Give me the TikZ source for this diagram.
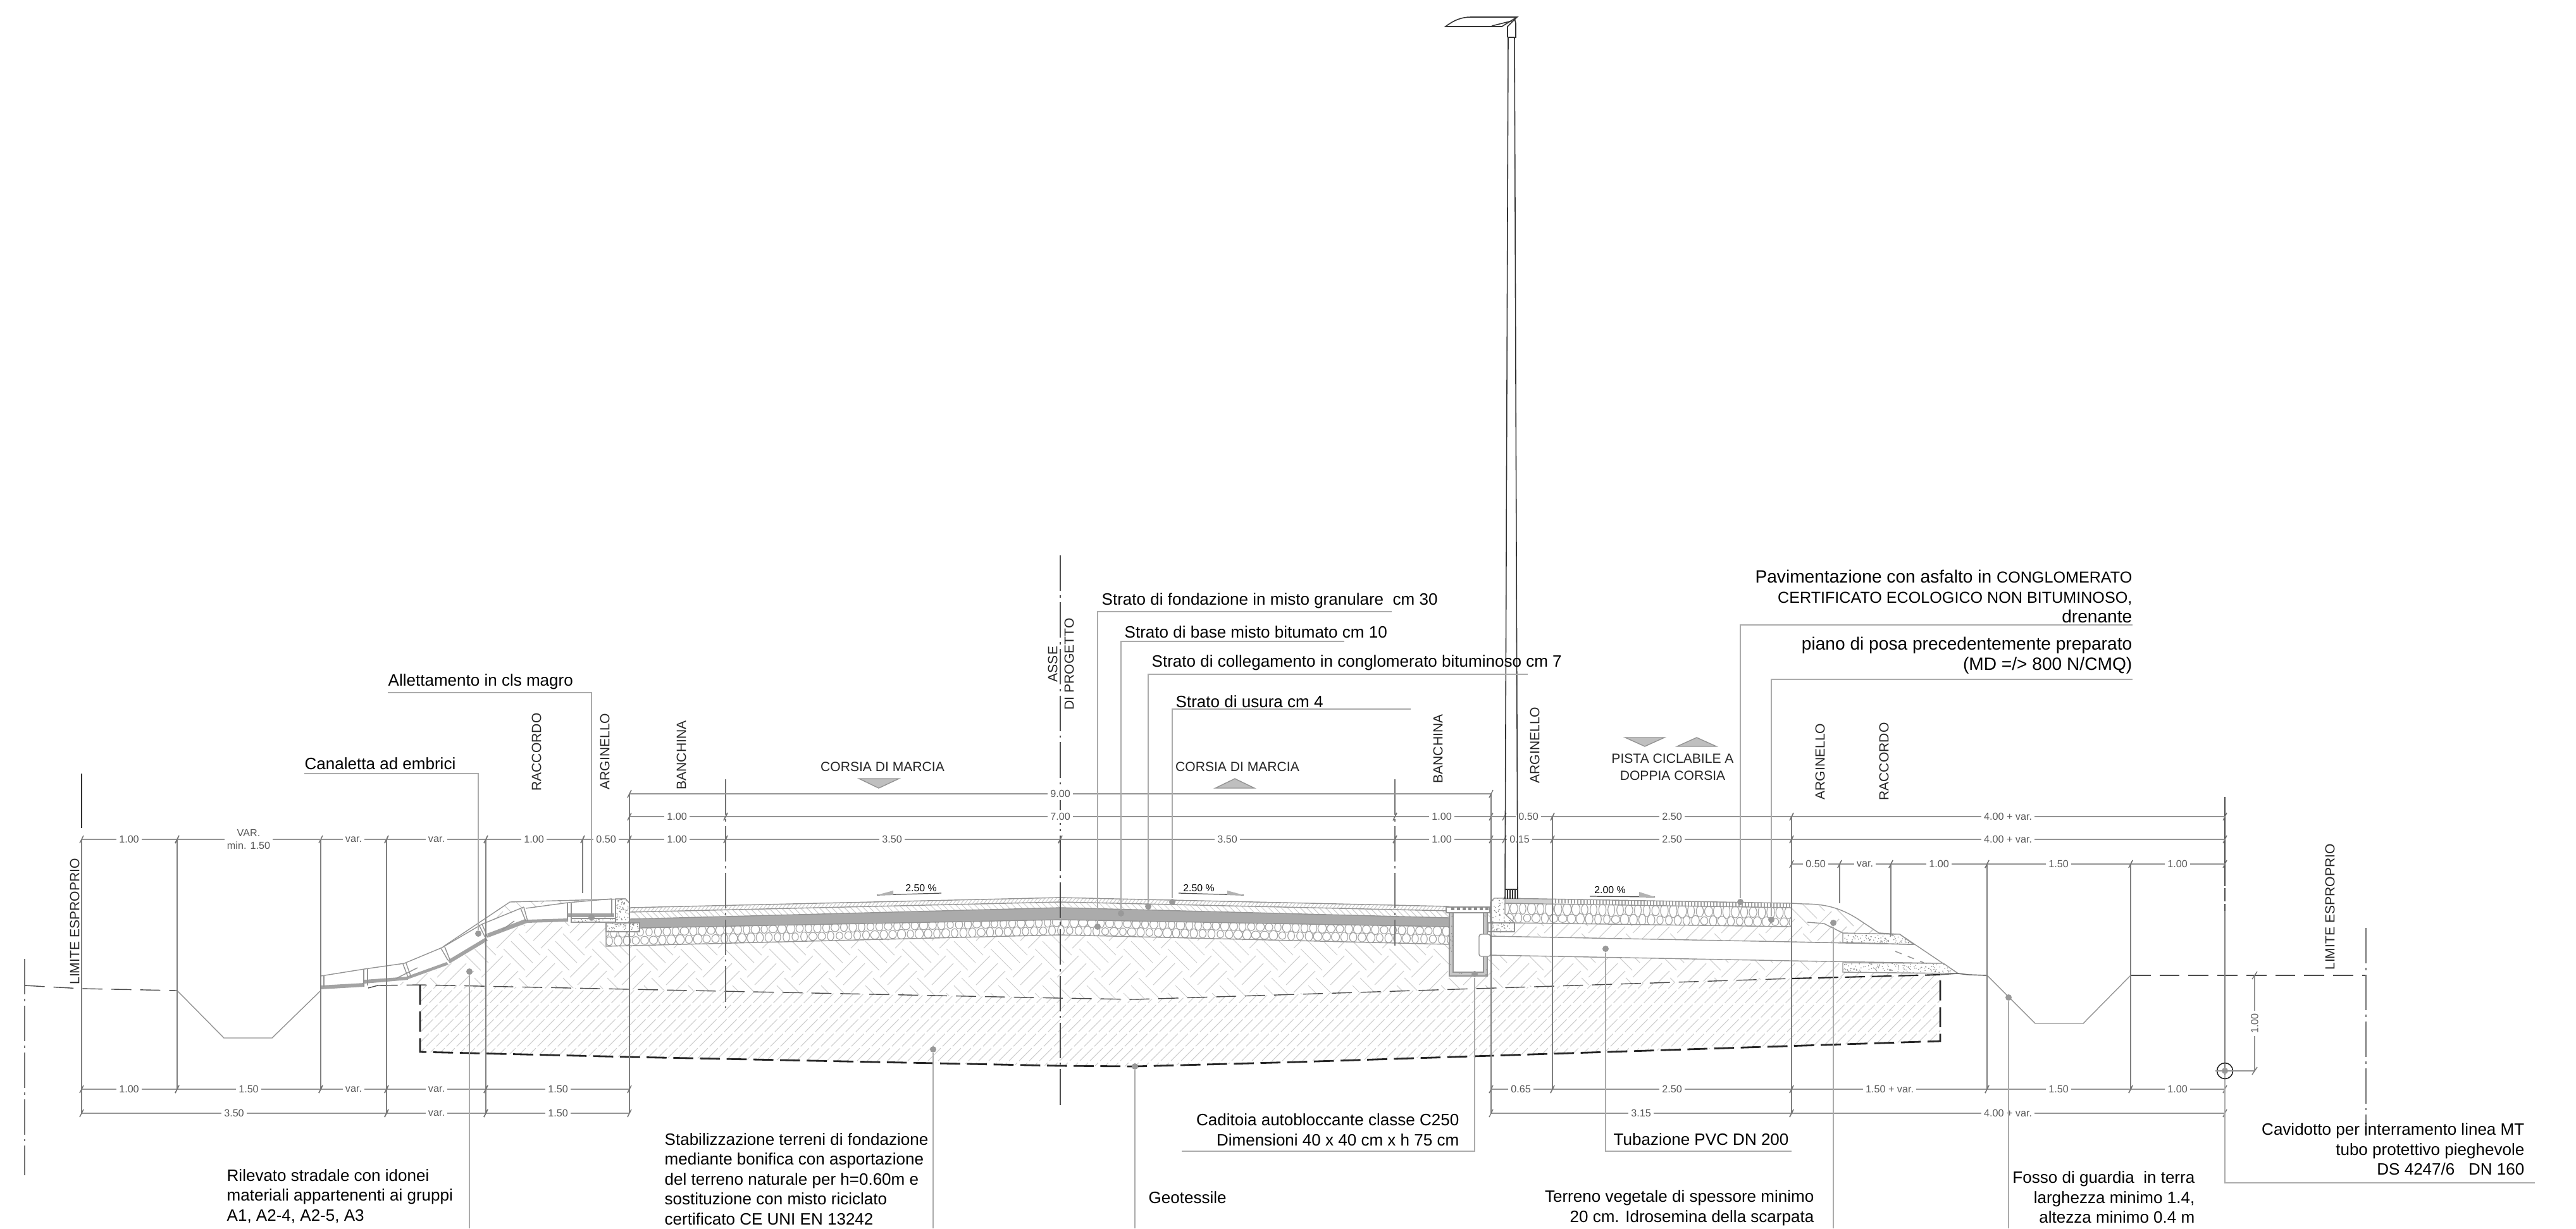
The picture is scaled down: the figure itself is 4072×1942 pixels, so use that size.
\documentclass[tikz,border=0pt]{standalone}
\usepackage{fontspec}
\setmainfont{Liberation Sans}
\usepackage{tikz}
\usetikzlibrary{shapes.geometric, arrows}
\tikzstyle{notetext} = [inner sep=0pt, text=black, font=\fontsize{7.4}{9}\selectfont]
\tikzstyle{bignote} = [inner sep=0pt, text=black, font=\fontsize{8}{9}\selectfont]
\tikzstyle{rotlabel} = [rotate=90, inner sep=0pt, text=black!85, font=\fontsize{6}{7.4}\selectfont]
\tikzstyle{flatlabel} = [inner sep=0pt, text=black!85, font=\fontsize{6}{7.4}\selectfont, align=center]
\tikzstyle{dimtext} = [fill=white, inner sep=1.2pt, text=black!65, font=\fontsize{4.6}{5.7}\selectfont, align=center]
\tikzstyle{slopetext} = [inner sep=0pt, text=black, font=\fontsize{4.5}{5.7}\selectfont]
\tikzstyle{dimline} = [draw=black!42, line width=0.4pt]
\tikzstyle{dimtick} = [draw=black!55, line width=0.4pt]
\tikzstyle{extline} = [draw=black!50, line width=0.5pt]
\tikzstyle{leader} = [draw=black!33, line width=0.45pt]
\tikzstyle{pindot} = [circle, fill=black!40, inner sep=0pt, minimum size=0.1cm]
\tikzstyle{groundline} = [draw=black!70, line width=0.4pt, dash pattern=on 9pt off 4pt]
\tikzstyle{stabline} = [draw=black!85, line width=0.8pt, dash pattern=on 9pt off 3pt]
\tikzstyle{axisline} = [draw=black!55, line width=0.45pt, dash pattern=on 16pt off 2pt on 1pt off 2pt]
\tikzstyle{outline} = [draw=black!42, line width=0.4pt]
\tikzstyle{herringline} = [draw=black!20, line width=0.3pt]
\tikzstyle{stabhatch} = [draw=black!20, line width=0.3pt, dash pattern=on 8pt off 1.2pt]
\tikzstyle{stoneline} = [draw=black!36, line width=0.32pt]
\tikzstyle{lampline} = [draw=black!80, line width=0.45pt]
\newcommand{\herringfill}{%
	\foreach \cx in {580,650,...,3120} \foreach \cy in {1400,1470,...,1610} \foreach \dd in {-12,0,12} {
		\draw[herringline] ({\cx+\dd-17},{\cy+\dd+17}) -- ({\cx+\dd+17},{\cy+\dd-17});
		\draw[herringline] ({\cx+35+\dd-17},{\cy+35-\dd-17}) -- ({\cx+35+\dd+17},{\cy+35-\dd+17});
	}%
}
\newcommand{\speckle}[5]{%
	\foreach \nn in {1,...,#5} {
		\pgfmathsetmacro{\sx}{#1+rnd*#3}
		\pgfmathsetmacro{\sy}{#2+rnd*#4}
		\fill[black!45] (\sx,\sy) circle (0.25pt);
	}%
}

\begin{document}
\begin{tikzpicture}[x=0.01cm, y=-0.01cm]
	\useasboundingbox (0,0) rectangle (4072,1942);
	\pgfmathsetseed{7}

	\begin{scope}
		\clip (664,1557) -- (995,1564) -- (1676,1578) -- (1793,1580) -- (2050,1572) -- (2832,1547) -- (3067,1541) -- (3067,1646) -- (2050,1679) -- (1793,1686) -- (1676,1685) -- (995,1671) -- (664,1663) -- cycle;
		\foreach \sx in {500,516,...,3100}
			\draw[stabhatch] (\sx,1700) -- ({\sx+170},1530);
	\end{scope}

	\begin{scope}
		\clip (620,1558) -- (645,1550) -- (710,1525) -- (768,1490) -- (833,1459) -- (900,1456) -- (995,1440) -- (2360,1440) -- (2832,1432) -- (2850,1429) -- (2883,1430) -- (2907,1437) -- (2937,1453) -- (2970,1475) -- (3025,1493) -- (3072,1523) -- (3095,1539) -- (3067,1541) -- (2832,1547) -- (2050,1572) -- (1793,1580) -- (1676,1578) -- (995,1564) -- (664,1557) -- cycle;
		\herringfill
	\end{scope}
	\begin{scope}
		\clip (806,1426) -- (989,1421) -- (967,1421) -- (898,1427) -- (831,1436) -- (762,1461) -- cycle;
		\herringfill
	\end{scope}

	\fill[white] (958,1474) -- (995,1473) -- (995,1435) -- (1676,1419) -- (2291,1433) -- (2291,1493) -- (1676,1478) -- (958,1496) -- cycle;
	\begin{scope}
		\clip (995,1435) -- (1676,1419) -- (2291,1433) -- (2291,1440) -- (1676,1426) -- (995,1442) -- cycle;
		\foreach \sx in {990,996,...,2300}
			\draw[herringline] (\sx,1445) -- ({\sx+24},1415);
	\end{scope}
	\begin{scope}
		\clip (995,1442) -- (1676,1426) -- (2291,1440) -- (2291,1451) -- (1676,1435) -- (995,1453) -- cycle;
		\foreach \sx in {980,990,...,2300}
			\draw[herringline] (\sx,1420) -- ({\sx+36},1456);
	\end{scope}
	\fill[black!33] (995,1453) -- (1676,1435) -- (2291,1451) -- (2291,1465) -- (1676,1454) -- (995,1467) -- cycle;
	\begin{scope}
		\clip (958,1474) -- (1011,1467) -- (1676,1454) -- (2291,1465) -- (2291,1493) -- (1676,1478) -- (958,1496) -- cycle;
		\foreach \sx in {956,970,...,2291} {
			\pgfmathsetmacro{\sy}{1419+abs(\sx-1676)*0.0235+39}
			\draw[stoneline] (\sx,\sy) ellipse [x radius={5+rnd*2}, y radius={6+rnd*2}];
			\draw[stoneline] ({\sx+7},{\sy+13}) ellipse [x radius={5+rnd*2}, y radius={6+rnd*2}];
		}
	\end{scope}
	\draw[outline] (995,1435) -- (1676,1419) -- (2291,1433);
	\draw[outline] (995,1442) -- (1676,1426) -- (2291,1440);
	\draw[outline] (995,1453) -- (1676,1435) -- (2291,1451);
	\draw[outline] (1011,1467) -- (1676,1454) -- (2291,1465);
	\draw[outline] (958,1473) -- (958,1496) -- (1676,1478) -- (2291,1493);

	\fill[white] (973,1421) -- (989,1421) -- (995,1428) -- (995,1459) -- (973,1459) -- cycle;
	\begin{scope}
		\clip (973,1421) -- (989,1421) -- (995,1428) -- (995,1459) -- (973,1459) -- cycle;
		\speckle{973}{1421}{22}{38}{60}
	\end{scope}
	\draw[outline] (973,1459) -- (973,1421) -- (989,1421) -- (995,1428) -- (995,1459);
	\fill[white] (958,1459) rectangle (1011,1473);
	\speckle{958}{1459}{53}{14}{50}
	\draw[outline] (958,1459) rectangle (1011,1473);
	\fill[white] (903,1452) rectangle (973,1458);
	\speckle{903}{1452}{70}{6}{30}
	\draw[outline] (903,1452) rectangle (973,1458);

	\fill[black!36] (507,1558) -- (576,1554) -- (576,1560) -- (507,1564) -- cycle;
	\fill[black!36] (576,1549) -- (645,1544) -- (645,1549) -- (576,1555) -- cycle;
	\fill[black!36] (645,1543) -- (706,1521) -- (709,1525) -- (645,1548) -- cycle;
	\fill[black!36] (708,1518) -- (768,1482) -- (771,1487) -- (711,1523) -- cycle;
	\fill[black!36] (770,1476) -- (830,1453) -- (836,1458) -- (772,1482) -- cycle;
	\fill[black!36] (832,1454) -- (898,1452) -- (898,1457) -- (832,1459) -- cycle;
	\fill[black!36] (898,1444) -- (971,1444) -- (971,1450) -- (898,1450) -- cycle;
	\draw[outline] (507,1543) -- (576,1532) -- (639,1523) -- (699,1498) -- (762,1461) -- (828,1434);
	\draw[outline] (831,1436) -- (898,1427) -- (967,1421);
	\draw[outline] (700,1497) -- (806,1426) -- (989,1421);
	\draw[outline] (507,1543) -- (507,1564) (512,1542) -- (512,1560);
	\draw[outline] (575,1532) -- (575,1560) (581,1532) -- (581,1558);
	\draw[outline] (637,1524) -- (645,1545) (642,1523) -- (650,1545);
	\draw[outline] (697,1499) -- (708,1518) (703,1497) -- (711,1517);
	\draw[outline] (757,1462) -- (767,1482) (762,1461) -- (771,1482);
	\draw[outline] (823,1436) -- (831,1456) (828,1434) -- (834,1456);
	\draw[outline] (897,1428) -- (897,1455) (903,1428) -- (903,1457);
	\draw[outline] (967,1421) -- (967,1448) (973,1421) -- (973,1458);
	\draw[outline] (626,1547) -- (660,1530) (794,1470) -- (813,1456);

	\fill[white] (2356,1480) -- (2832,1489) -- (3025,1493) -- (3072,1523) -- (2832,1519) -- (2356,1510) -- cycle;
	\draw[outline] (2356,1480) -- (2832,1489) -- (3025,1493);
	\draw[outline] (2356,1510) -- (2832,1519) -- (3072,1523);
	\draw[outline, dashed] (2996,1504) -- (3041,1522);
	\fill[white] (2379,1420) -- (2832,1428) -- (2832,1465) -- (2379,1458) -- cycle;
	\begin{scope}
		\clip (2379,1428) -- (2832,1435) -- (2832,1465) -- (2379,1458) -- cycle;
		\foreach \sx in {2379,2393,...,2840} {
			\pgfmathsetmacro{\sy}{1421+(\sx-2379)*0.0155+15}
			\draw[stoneline] (\sx,\sy) ellipse [x radius={5+rnd*2}, y radius={8+rnd*3}];
			\draw[stoneline] ({\sx+7},{\sy+15}) ellipse [x radius={5+rnd*2}, y radius={6+rnd*3}];
		}
	\end{scope}
	\begin{scope}
		\clip (2454,1421) -- (2832,1428) -- (2832,1435) -- (2454,1428) -- cycle;
		\foreach \sx in {2454,2459,...,2832}
			\draw[stoneline] (\sx,1415) -- (\sx,1440);
	\end{scope}
	\fill[black!18] (2379,1421) -- (2454,1421) -- (2454,1428) -- (2379,1428) -- cycle;
	\draw[outline] (2379,1420) -- (2832,1428);
	\draw[outline] (2379,1428) -- (2832,1435) -- (2832,1465);
	\draw[outline] (2394,1459) -- (2832,1465);
	\fill[white] (2356,1426) -- (2362,1420) -- (2379,1420) -- (2379,1445) -- (2394,1459) -- (2356,1459) -- cycle;
	\begin{scope}
		\clip (2356,1426) -- (2362,1420) -- (2379,1420) -- (2379,1445) -- (2394,1459) -- (2356,1459) -- cycle;
		\speckle{2356}{1420}{38}{39}{60}
	\end{scope}
	\draw[outline] (2356,1426) -- (2362,1420) -- (2379,1420) -- (2379,1445) -- (2394,1459) -- (2356,1459) -- cycle;
	\fill[white] (2352,1459) rectangle (2394,1473);
	\speckle{2352}{1459}{42}{14}{40}
	\draw[outline] (2352,1459) rectangle (2394,1473);

	\fill[white] (2832,1428) -- (2883,1430) -- (2913,1475) -- (2913,1490) -- (2832,1489) -- cycle;
	\begin{scope}
		\clip (2832,1428) -- (2850,1429) -- (2883,1430) -- (2907,1437) -- (2937,1453) -- (2970,1475) -- (2913,1490) -- (2832,1489) -- cycle;
		\herringfill
	\end{scope}
	\draw[outline] (2832,1428) -- (2850,1429) .. controls (2883,1429) and (2907,1434) .. (2937,1453) -- (2970,1475) -- (3003,1477) -- (3095,1539) -- (3112,1541);
	\draw[outline] (2857,1458) -- (2883,1460) -- (2893,1465) -- (2913,1475);
	\draw[outline] (2832,1489) -- (3025,1493);
	\fill[white] (2913,1475) -- (3003,1477) -- (3025,1493) -- (2913,1490) -- cycle;
	\begin{scope}
		\clip (2913,1475) -- (3003,1477) -- (3025,1493) -- (2913,1490) -- cycle;
		\speckle{2913}{1475}{112}{18}{110}
	\end{scope}
	\draw[outline] (2913,1475) -- (3003,1477) -- (3025,1493) -- (2913,1490) -- cycle;
	\fill[white] (2913,1522) -- (3072,1523) -- (3095,1539) -- (2913,1537) -- cycle;
	\begin{scope}
		\clip (2913,1522) -- (3072,1523) -- (3095,1539) -- (2913,1537) -- cycle;
		\speckle{2913}{1522}{182}{17}{160}
	\end{scope}
	\draw[outline] (2913,1522) -- (3072,1523) -- (3095,1539) -- (2913,1537) -- cycle;

	\fill[black!22] (2291,1443) rectangle (2351,1543);
	\speckle{2291}{1443}{60}{100}{130}
	\fill[white] (2297,1443) rectangle (2345,1537);
	\draw[outline] (2291,1443) rectangle (2351,1543);
	\draw[outline] (2297,1443) rectangle (2345,1537);
	\fill[white] (2286,1434) rectangle (2355,1443);
	\draw[outline] (2286,1434) rectangle (2355,1443);
	\foreach \sx in {2294,2303,...,2348}
		\fill[black!45] (\sx,1434) rectangle ({\sx+5},1439);
	\fill[white, rounded corners=1pt] (2338,1477) rectangle (2356,1512);
	\draw[outline, rounded corners=1pt] (2338,1477) rectangle (2356,1512);

	\draw[outline] (280,1566) -- (354,1641) -- (430,1641) -- (507,1566);
	\draw[outline] (3141,1542) -- (3217,1618) -- (3293,1618) -- (3368,1542);
	\draw[groundline] (39,1558) -- (129,1563) -- (280,1566);
	\draw[outline] (507,1564) -- (507,1566);
	\draw[draw=black!70, line width=0.4pt] (582,1562) -- (597,1558);
	\draw[groundline] (597,1558) -- (664,1557) -- (995,1564) -- (1676,1578) -- (1793,1580) -- (2050,1572) -- (2832,1547);
	\draw[stabline, line width=0.6pt] (2832,1547) -- (3067,1541);
	\draw[draw=black!60, line width=0.4pt] (3067,1541) -- (3095,1539) -- (3112,1541);
	\draw[groundline] (3112,1541) -- (3141,1542);
	\draw[groundline] (3368,1542) -- (3740,1542);
	\draw[stabline] (664,1557) -- (664,1663) -- (995,1671) -- (1676,1685) -- (1793,1686) -- (2050,1679) -- (3067,1646) -- (3067,1541);

	\foreach \xe/\ya/\yb in {129/1327/1760, 280/1327/1722, 507/1327/1722, 611/1327/1760, 768/1327/1760, 921/1327/1412, 995/1255/1760, 2357/1255/1760, 2454/1291/1722, 2832/1291/1760, 2908/1366/1428, 2989/1366/1480, 3141/1366/1722, 3368/1366/1722, 3517/1440/1760}
		\draw[extline] (\xe,\ya) -- (\xe,\yb);
	\draw[draw=black!80, line width=0.4pt] (129,1223) -- (129,1309);
	\draw[draw=black!70, line width=0.45pt, dash pattern=on 40pt off 1pt on 6pt off 1pt] (3517,1260) -- (3517,1440);
	\draw[axisline] (39,1516) -- (39,1858);
	\draw[axisline] (3740,1467) -- (3740,1796);
	\draw[axisline] (1147,1232) -- (1147,1595);
	\draw[axisline] (2205,1232) -- (2205,1495);
	\draw[axisline, draw=black!70, line width=0.6pt] (1676,878) -- (1676,1753);

	\foreach \xa/\xb/\yd/\lab/\xl in {129/280/1327/1.00/204, 507/611/1327/var./559, 611/768/1327/var./690, 768/921/1327/1.00/844, 921/995/1327/0.50/958, 995/1147/1327/1.00/1070, 995/1147/1291/1.00/1070, 1147/1676/1327/3.50/1410, 1676/2205/1327/3.50/1940, 1147/2205/1291/7.00/1676, 995/2357/1255/9.00/1676, 2205/2357/1291/1.00/2279, 2205/2357/1327/1.00/2279, 2378/2454/1291/0.50/2416, 2378/2454/1327/0.15/2402, 2454/2832/1291/2.50/2643, 2454/2832/1327/2.50/2643, 2832/3517/1291/4.00 + var./3174, 2832/3517/1327/4.00 + var./3174, 2832/2908/1366/0.50/2870, 2908/2989/1366/var./2948, 2989/3141/1366/1.00/3065, 3141/3368/1366/1.50/3254, 3368/3517/1366/1.00/3442, 129/280/1722/1.00/204, 280/507/1722/1.50/393, 507/611/1722/var./559, 611/768/1722/var./690, 768/995/1722/1.50/882, 129/611/1760/3.50/370, 611/768/1760/var./690, 768/995/1760/1.50/882, 2357/2454/1722/0.65/2404, 2454/2832/1722/2.50/2643, 2832/3141/1722/1.50 + var./2987, 3141/3368/1722/1.50/3254, 3368/3517/1722/1.00/3442, 2357/2832/1760/3.15/2594, 2832/3517/1760/4.00 + var./3174} {
		\coordinate (dim_a\xa_\yd) at (\xa,\yd);
		\coordinate (dim_b\xb_\yd) at (\xb,\yd);
		\draw[dimline] (dim_a\xa_\yd) -- (dim_b\xb_\yd);
		\draw[dimtick] ({\xa-3},{\yd+6}) -- ({\xa+3},{\yd-6});
		\draw[dimtick] ({\xb-3},{\yd+6}) -- ({\xb+3},{\yd-6});
		\node(dim_\xa_\xb_\yd) [dimtext] at (\xl,\yd) {\lab};
	}
	\coordinate (dim_var_a) at (280,1327);
	\coordinate (dim_var_b) at (507,1327);
	\draw[dimline] (dim_var_a) -- (dim_var_b);
	\draw[dimtick] (277,1333) -- (283,1321);
	\node(dim_var) [dimtext] at (393,1327) {VAR.\\min. 1.50};
	\coordinate (dim_small_a) at (2357,1291);
	\coordinate (dim_small_b) at (2378,1291);
	\draw[dimline] (dim_small_a) -- (dim_small_b);
	\coordinate (dim_smaller_a) at (2357,1327);
	\coordinate (dim_smaller_b) at (2378,1327);
	\draw[dimline] (dim_smaller_a) -- (dim_smaller_b);

	\node(limite_left) [rotlabel] at (118,1457) {LIMITE ESPROPRIO};
	\node(limite_right) [rotlabel] at (3683,1434) {LIMITE ESPROPRIO};
	\node(raccordo_left) [rotlabel] at (848,1189) {RACCORDO};
	\node(arginello_left) [rotlabel] at (956,1188) {ARGINELLO};
	\node(banchina_left) [rotlabel] at (1077,1194) {BANCHINA};
	\node(banchina_right) [rotlabel] at (2273,1184) {BANCHINA};
	\node(arginello_mid) [rotlabel] at (2426,1178) {ARGINELLO};
	\node(arginello_right) [rotlabel] at (2877,1204) {ARGINELLO};
	\node(raccordo_right) [rotlabel] at (2978,1204) {RACCORDO};
	\node(asse) [rotlabel] at (1664,1050) {ASSE};
	\node(progetto) [rotlabel] at (1690,1050) {DI PROGETTO};

	\node(corsia_left) [flatlabel] at (1395,1212) {CORSIA DI MARCIA};
	\node(corsia_right) [flatlabel] at (1956,1212) {CORSIA DI MARCIA};
	\node(pista) [flatlabel] at (2644,1213) {PISTA CICLABILE A\\[0.2pt]DOPPIA CORSIA};
	\fill[black!25] (1358,1231) -- (1421,1231) -- (1389,1246) -- cycle;
	\draw[outline] (1358,1231) -- (1421,1231) -- (1389,1246) -- cycle;
	\fill[black!25] (1921,1246) -- (1983,1246) -- (1952,1231) -- cycle;
	\draw[outline] (1921,1246) -- (1983,1246) -- (1952,1231) -- cycle;
	\fill[black!25] (2569,1166) -- (2631,1166) -- (2600,1180) -- cycle;
	\draw[outline] (2569,1166) -- (2631,1166) -- (2600,1180) -- cycle;
	\fill[black!25] (2651,1180) -- (2713,1180) -- (2682,1166) -- cycle;
	\draw[outline] (2651,1180) -- (2713,1180) -- (2682,1166) -- cycle;

	\node(slope_left) [slopetext] at (1456,1404) {2.50 \%};
	\node(slope_mid) [slopetext] at (1895,1404) {2.50 \%};
	\node(slope_right) [slopetext] at (2545,1407) {2.00 \%};
	\draw[draw=black!70, line width=0.35pt] (1386,1415) -- (1488,1412);
	\fill[black!30] (1386,1415) -- (1412,1408) -- (1412,1415) -- cycle;
	\draw[draw=black!70, line width=0.35pt] (1863,1412) -- (1966,1415);
	\fill[black!30] (1966,1415) -- (1940,1408) -- (1940,1415) -- cycle;
	\draw[draw=black!70, line width=0.35pt] (2513,1417) -- (2616,1418);
	\fill[black!30] (2616,1418) -- (2591,1410) -- (2591,1418) -- cycle;

	\draw[lampline] (2384,59) -- (2379,1421);
	\draw[lampline] (2394,59) -- (2399,1421);
	\draw[lampline] (2379,1406) -- (2399,1406);
	\foreach \sx in {2383,2387,2391,2395}
		\draw[lampline] (\sx,1406) -- (\sx,1421);
	\draw[lampline] (2383,59) -- (2396,59) -- (2396,37) -- (2394,29);
	\draw[lampline] (2383,59) -- (2383,42) -- (2398,27);
	\draw[lampline] (2285,42) .. controls (2298,32) and (2310,27) .. (2325,27) -- (2398,27) -- (2374,42) -- cycle;
	\draw[lampline] (2358,41) -- (2390,33);

	\node(canaletta) [notetext, anchor=west] at (481,1207) {Canaletta ad embrici};
	\coordinate (canaletta_end) at (481,1223);
	\node(canaletta_dot) [pindot] at (756,1476) {};
	\draw[leader] (canaletta_end) -| (canaletta_dot);

	\node(allettamento) [notetext, anchor=west] at (613,1078) {Allettamento in cls magro};
	\coordinate (allettamento_end) at (613,1095);
	\node(allettamento_dot) [pindot] at (935,1450) {};
	\draw[leader] (allettamento_end) -| (allettamento_dot);

	\node(rilevato) [notetext, anchor=west, align=left] at (358,1891) {Rilevato stradale con idonei\\materiali appartenenti ai gruppi\\A1, A2-4, A2-5, A3};
	\node(rilevato_dot) [pindot] at (742,1536) {};
	\coordinate (rilevato_end) at (742,1942);
	\draw[leader] (rilevato_dot) -- (rilevato_end);

	\node(stabilizzazione) [notetext, anchor=west, align=left] at (1050,1864) {Stabilizzazione terreni di fondazione\\mediante bonifica con asportazione\\del terreno naturale per h=0.60m e\\sostituzione con misto riciclato\\certificato CE UNI EN 13242};
	\node(stabilizzazione_dot) [pindot] at (1475,1659) {};
	\coordinate (stabilizzazione_end) at (1475,1942);
	\draw[leader] (stabilizzazione_dot) -- (stabilizzazione_end);

	\node(geotessile) [notetext, anchor=west] at (1815,1893) {Geotessile};
	\node(geotessile_dot) [pindot] at (1794,1686) {};
	\coordinate (geotessile_end) at (1794,1942);
	\draw[leader] (geotessile_dot) -- (geotessile_end);

	\node(fondazione) [notetext, anchor=west] at (1741,950) {Strato di fondazione in misto granulare\ \ cm 30};
	\coordinate (fondazione_end) at (2200,967);
	\node(fondazione_dot) [pindot] at (1735,1465) {};
	\draw[leader] (fondazione_dot) |- (fondazione_end);

	\node(base) [notetext, anchor=west] at (1777,999) {Strato di base misto bitumato cm 10};
	\coordinate (base_end) at (2125,1014);
	\node(base_dot) [pindot] at (1772,1444) {};
	\draw[leader] (base_dot) |- (base_end);

	\node(collegamento) [notetext, anchor=west] at (1820,1048) {Strato di collegamento in conglomerato bituminoso cm 7};
	\coordinate (collegamento_end) at (2415,1066);
	\node(collegamento_dot) [pindot] at (1815,1433) {};
	\draw[leader] (collegamento_dot) |- (collegamento_end);

	\node(usura) [notetext, anchor=west] at (1858,1109) {Strato di usura cm 4};
	\coordinate (usura_end) at (2230,1121);
	\node(usura_dot) [pindot] at (1853,1426) {};
	\draw[leader] (usura_dot) |- (usura_end);

	\node(pavimentazione) [bignote, anchor=east, align=right] at (3371,943) {Pavimentazione con asfalto in {\fontsize{7.15}{9}\selectfont CONGLOMERATO}\\{\fontsize{7.15}{9}\selectfont CERTIFICATO ECOLOGICO NON BITUMINOSO,}\\drenante};
	\coordinate (pavimentazione_end) at (3371,988);
	\node(pavimentazione_dot) [pindot] at (2751,1426) {};
	\draw[leader] (pavimentazione_dot) |- (pavimentazione_end);

	\node(piano) [bignote, anchor=east, align=right] at (3371,1036) {piano di posa precedentemente preparato\\(MD =/> 800 N/CMQ)};
	\coordinate (piano_end) at (3371,1074);
	\node(piano_dot) [pindot] at (2800,1454) {};
	\draw[leader] (piano_dot) |- (piano_end);

	\node(caditoia) [notetext, anchor=east, align=right] at (2307,1786) {Caditoia autobloccante classe C250\\Dimensioni 40 x 40 cm x h 75 cm};
	\coordinate (caditoia_end) at (1868,1820);
	\node(caditoia_dot) [pindot] at (2331,1540) {};
	\draw[leader] (caditoia_end) -| (caditoia_dot);

	\node(tubazione) [notetext, anchor=west] at (2550,1801) {Tubazione PVC DN 200};
	\coordinate (tubazione_end) at (2832,1820);
	\node(tubazione_dot) [pindot] at (2538,1500) {};
	\draw[leader] (tubazione_dot) |- (tubazione_end);

	\node(terreno) [notetext, anchor=east, align=right] at (2868,1910) {Terreno vegetale di spessore minimo\\20 cm. Idrosemina della scarpata};
	\node(terreno_dot) [pindot] at (2898,1459) {};
	\coordinate (terreno_end) at (2898,1942);
	\draw[leader] (terreno_dot) -- (terreno_end);

	\node(fosso) [notetext, anchor=east, align=right] at (3470,1893) {Fosso di guardia\ \ in terra\\larghezza minimo 1.4,\\altezza minimo 0.4 m};
	\node(fosso_dot) [pindot] at (3175,1577) {};
	\coordinate (fosso_end) at (3175,1942);
	\draw[leader] (fosso_dot) -- (fosso_end);

	\node(cavidotto) [notetext, anchor=east, align=right] at (3991,1817) {Cavidotto per interramento linea MT\\tubo protettivo pieghevole\\DS 4247/6\ \ \ DN 160};
	\coordinate (cavidotto_end) at (4007,1870);
	\node(cavidotto_dot) [pindot] at (3517,1693) {};
	\draw[leader] (cavidotto_dot) |- (cavidotto_end);
	\node(cavidotto_pipe) [circle, draw=black!85, line width=0.45pt, inner sep=0pt, minimum size=0.25cm] at (3517,1693) {};

	\coordinate (cavidotto_top) at (3564,1542);
	\coordinate (cavidotto_low) at (3564,1693);
	\coordinate (cavidotto_left) at (3502,1693);
	\draw[dimline] (cavidotto_top) -- (cavidotto_low);
	\draw[dimline] (cavidotto_left) -- (cavidotto_low);
	\draw[dimtick] (3560,1548) -- (3568,1536);
	\draw[dimtick] (3560,1699) -- (3568,1687);
	\node(dim_cavidotto) [dimtext, rotate=90] at (3564,1618) {1.00};
\end{tikzpicture}
\end{document}
